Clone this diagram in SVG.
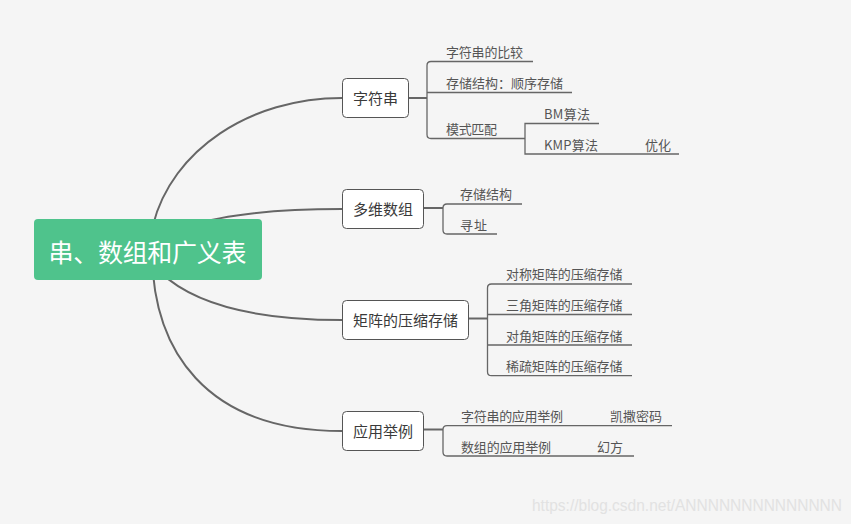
<svg xmlns="http://www.w3.org/2000/svg" width="851" height="524" viewBox="0 0 851 524">
<style>
.curve{fill:none;stroke:#666;stroke-width:2}
.stem{fill:none;stroke:#666;stroke-width:2}
.br{fill:none;stroke:#666;stroke-width:1.3}
.box{fill:#fff;stroke:#555;stroke-width:1}
.nt{font-family:"Noto Sans CJK SC","Noto Sans",sans-serif;font-size:15px;fill:#3a3a3a;text-anchor:middle}
.st{font-family:"Noto Sans CJK SC","Noto Sans",sans-serif;font-size:13px;fill:#555}
</style>
<rect width="851" height="524" fill="#f5f5f5"/>
<g id="connectors">
<path class="curve" d="M153,225 C172,150 250,98 342,98"/>
<path class="curve" d="M190,226 Q240,209 342,209"/>
<path class="curve" d="M160,272 Q210,320 342,320"/>
<path class="curve" d="M152,250 C152,350 205,431 342,431"/>
<path class="stem" d="M409,98 H427"/>
<path class="br" d="M533,61.5 H431 Q427,61.5 427,65.5 V134.5 Q427,138.5 431,138.5 H525 M427,92.5 H572"/>
<path class="br" d="M599,123.5 H525 V154 H679"/>
<path class="stem" d="M423,208 H443"/>
<path class="br" d="M522,204 H447 Q443,204 443,208 V230 Q443,234 447,234 H497"/>
<path class="stem" d="M468,318.5 H487.5"/>
<path class="br" d="M632,284 H491.5 Q487.5,284 487.5,288 V371.7 Q487.5,375.7 491.5,375.7 H632 M487.5,314.5 H632 M487.5,345 H632"/>
<path class="stem" d="M423,429.5 H443"/>
<path class="br" d="M672,425.7 H447 Q443,425.7 443,429.7 V452 Q443,456 447,456 H634"/>
</g>
<g id="root">
<rect x="34" y="219" width="228" height="61" rx="4" fill="#4fc38c"/>
<text x="147.5" y="262" font-family="&quot;Noto Sans CJK SC&quot;,sans-serif" font-size="25" fill="#fff" text-anchor="middle" textLength="198" lengthAdjust="spacing">串、数组和广义表</text>
</g>
<g id="node-zifuchuan">
<rect class="box" x="342.5" y="78.5" width="66" height="39" rx="4"/>
<text class="nt" x="375.5" y="103.5">字符串</text>
</g>
<g id="node-duowei">
<rect class="box" x="342.5" y="189.5" width="81" height="39" rx="4"/>
<text class="nt" x="383" y="214.5">多维数组</text>
</g>
<g id="node-juzhen">
<rect class="box" x="342.5" y="300.5" width="126" height="39" rx="4"/>
<text class="nt" x="405.5" y="325.5">矩阵的压缩存储</text>
</g>
<g id="node-yingyong">
<rect class="box" x="342.5" y="411.5" width="81" height="39" rx="4"/>
<text class="nt" x="383" y="436.5">应用举例</text>
</g>
<g id="sub-1">
<text class="st" x="446" y="56.5" textLength="77" lengthAdjust="spacing">字符串的比较</text>
</g>
<g id="sub-2">
<text class="st" x="446" y="87.5" textLength="117" lengthAdjust="spacing">存储结构：顺序存储</text>
</g>
<g id="sub-3">
<text class="st" x="446" y="133.5" textLength="51" lengthAdjust="spacing">模式匹配</text>
</g>
<g id="sub-bm">
<text class="st" x="544" y="119" textLength="46" lengthAdjust="spacing">BM算法</text>
</g>
<g id="sub-kmp">
<text class="st" x="544" y="149.5" textLength="54" lengthAdjust="spacing">KMP算法</text>
</g>
<g id="sub-youhua">
<text class="st" x="645" y="149.5" textLength="26" lengthAdjust="spacing">优化</text>
</g>
<g id="sub-cunchu">
<text class="st" x="460" y="199" textLength="52" lengthAdjust="spacing">存储结构</text>
</g>
<g id="sub-xunzhi">
<text class="st" x="460" y="230" textLength="27" lengthAdjust="spacing">寻址</text>
</g>
<g id="sub-duicheng">
<text class="st" x="506" y="279" textLength="116.5" lengthAdjust="spacing">对称矩阵的压缩存储</text>
</g>
<g id="sub-sanjiao">
<text class="st" x="506" y="310" textLength="116.5" lengthAdjust="spacing">三角矩阵的压缩存储</text>
</g>
<g id="sub-duijiao">
<text class="st" x="506" y="340.5" textLength="116.5" lengthAdjust="spacing">对角矩阵的压缩存储</text>
</g>
<g id="sub-xishu">
<text class="st" x="506" y="371" textLength="116.5" lengthAdjust="spacing">稀疏矩阵的压缩存储</text>
</g>
<g id="sub-zfcyy">
<text class="st" x="461" y="421" textLength="102" lengthAdjust="spacing">字符串的应用举例</text>
</g>
<g id="sub-kaisa">
<text class="st" x="610" y="421" textLength="52" lengthAdjust="spacing">凯撒密码</text>
</g>
<g id="sub-szyy">
<text class="st" x="461" y="452" textLength="90" lengthAdjust="spacing">数组的应用举例</text>
</g>
<g id="sub-huanfang">
<text class="st" x="597" y="452" textLength="26" lengthAdjust="spacing">幻方</text>
</g>
<text x="532" y="510.5" font-family="&quot;Liberation Sans&quot;,Arial,sans-serif" font-size="16" fill="#e2e2e2" textLength="310" lengthAdjust="spacingAndGlyphs">https://blog.csdn.net/ANNNNNNNNNNNNNN</text>
</svg>
